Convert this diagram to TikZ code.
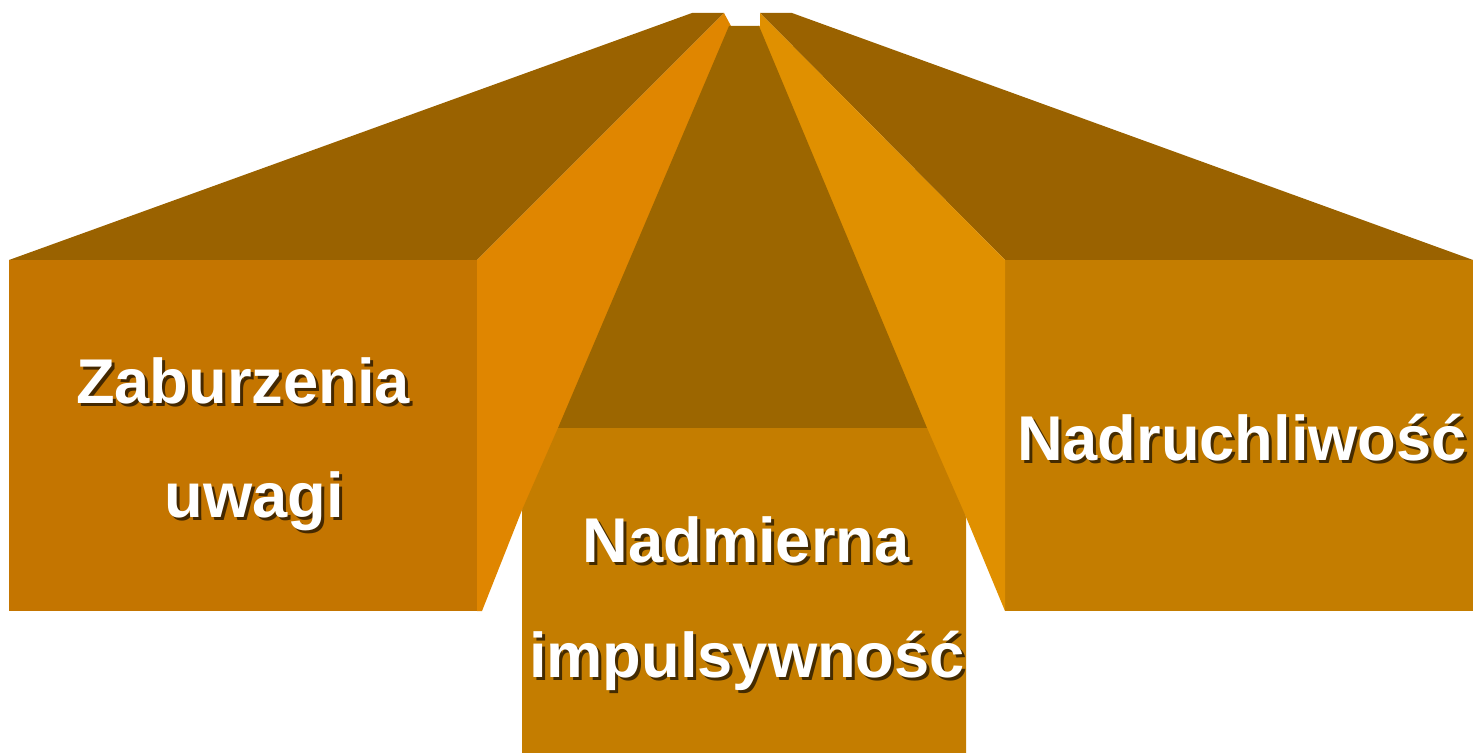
\documentclass[tikz,border=0pt]{standalone}
\usepackage{fontspec}
\setmainfont{Liberation Sans}
\definecolor{topdark}{HTML}{9A6200}
\definecolor{middletop}{HTML}{9C6600}
\definecolor{leftfront}{HTML}{C47500}
\definecolor{frontorange}{HTML}{C47D00}
\definecolor{sideleft}{HTML}{E08600}
\definecolor{sideright}{HTML}{E09000}
\begin{document}
\begin{tikzpicture}[x=0.02cm,y=-0.02cm,
    blocktext/.style={text=white,font=\fontsize{36}{43}\selectfont\bfseries,inner sep=0,anchor=base},
    textshadow/.style={text=black,opacity=0.65,font=\fontsize{36}{43}\selectfont\bfseries,inner sep=0,anchor=base}]
  \useasboundingbox (0,0) rectangle (1473,753);
  % left block
  \fill[topdark] (9,260) -- (692,13) -- (724,13) -- (477,260) -- cycle;
  \fill[leftfront] (9,260) rectangle (477,611);
  \fill[sideleft] (477,260) -- (724,13) -- (731,26) -- (590,400) -- (522,510)
    -- (482,611) -- (477,611) -- cycle;
  % right block
  \fill[topdark] (760,13) -- (792,13) -- (1473,260) -- (1005,260) -- cycle;
  \fill[frontorange] (1005,260) rectangle (1473,611);
  \fill[sideright] (760,13) -- (1005,260) -- (1005,611) -- (966,517)
    -- (900,400) -- (758,26) -- (760,26) -- cycle;
  % middle block
  \fill[middletop] (729,26) -- (759,26) -- (927,428) -- (558,428) -- cycle;
  \fill[frontorange] (558,428) -- (927,428) -- (966,517) -- (966,753)
    -- (522,753) -- (522,510) -- cycle;
  % labels
  \node[textshadow] (zabS) at (246,406) {Zaburzenia};
  \node[blocktext] (zab) at (243,403) {Zaburzenia};
  \node[textshadow] (uwS) at (257,520) {uwagi};
  \node[blocktext] (uw) at (254,517) {uwagi};
  \node[textshadow] (nadmS) at (749,565) {Nadmierna};
  \node[blocktext] (nadm) at (746,562) {Nadmierna};
  \node[textshadow] (impS) at (750,680) {impulsywność};
  \node[blocktext] (imp) at (747,677) {impulsywność};
  \node[textshadow] (nadrS) at (1245,463) {Nadruchliwość};
  \node[blocktext] (nadr) at (1242,460) {Nadruchliwość};
\end{tikzpicture}
\end{document}
